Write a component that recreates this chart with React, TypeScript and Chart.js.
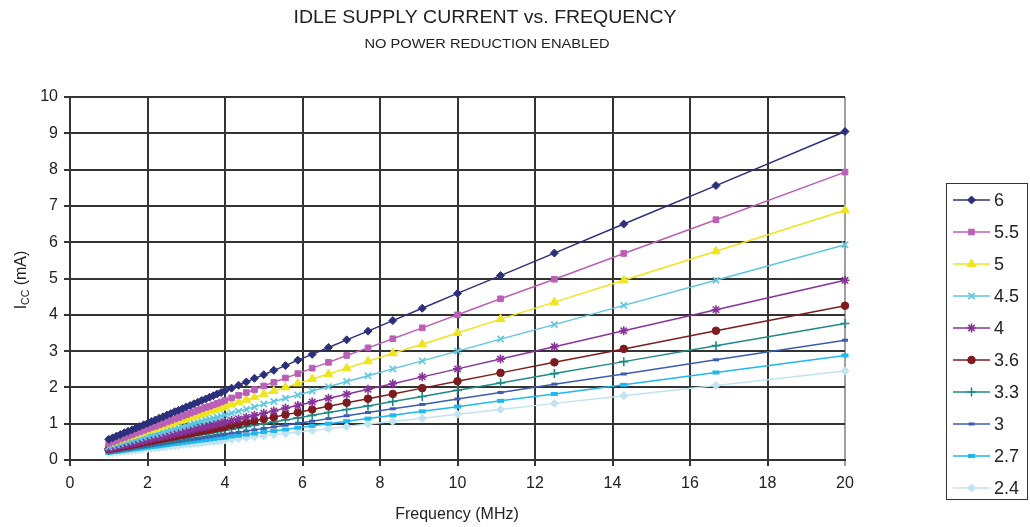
import React, { useEffect, useRef } from 'react';
import { Chart, registerables, PointElement } from 'chart.js';

Chart.register(...registerables);

const TITLE = 'IDLE SUPPLY CURRENT vs. FREQUENCY';
const SUBTITLE = 'NO POWER REDUCTION ENABLED';
const X_TITLE = 'Frequency (MHz)';

const X_TICKS = [0, 2, 4, 6, 8, 10, 12, 14, 16, 18, 20];
const Y_TICKS = [0, 1, 2, 3, 4, 5, 6, 7, 8, 9, 10];

const FREQ = [20, 16.67, 14.29, 12.5, 11.11, 10, 9.09, 8.33, 7.69, 7.14, 6.67, 6.25, 5.88, 5.56, 5.26, 5, 4.76, 4.55, 4.35, 4.17,
  4.0, 3.9, 3.8, 3.7, 3.6, 3.5, 3.4, 3.3, 3.2, 3.1, 3.0, 2.9, 2.8, 2.7, 2.6, 2.5, 2.4, 2.3, 2.2, 2.1, 2.0, 1.9, 1.8, 1.7, 1.6, 1.5, 1.4, 1.3, 1.2, 1.1, 1.0];

const SERIES_LABELS = ['6', '5.5', '5', '4.5', '4', '3.6', '3.3', '3', '2.7', '2.4'];

const I_6V = [9.05, 7.56, 6.50, 5.70, 5.08, 4.59, 4.18, 3.84, 3.55, 3.31, 3.10, 2.91, 2.75, 2.60, 2.47, 2.35, 2.25, 2.15, 2.06, 1.98,
  1.91, 1.86, 1.82, 1.77, 1.73, 1.68, 1.64, 1.59, 1.55, 1.50, 1.46, 1.41, 1.37, 1.33, 1.28, 1.24, 1.19, 1.15, 1.10, 1.06, 1.01, 0.97, 0.92, 0.88, 0.83, 0.79, 0.75, 0.70, 0.66, 0.61, 0.57];
const I_5V5 = [7.93, 6.62, 5.69, 4.98, 4.44, 4.00, 3.64, 3.34, 3.09, 2.88, 2.69, 2.53, 2.38, 2.26, 2.14, 2.04, 1.94, 1.86, 1.78, 1.71,
  1.64, 1.60, 1.56, 1.52, 1.48, 1.45, 1.41, 1.37, 1.33, 1.29, 1.25, 1.21, 1.17, 1.13, 1.09, 1.05, 1.01, 0.97, 0.93, 0.90, 0.86, 0.82, 0.78, 0.74, 0.70, 0.66, 0.62, 0.58, 0.54, 0.50, 0.46];
const I_5V = [6.88, 5.75, 4.95, 4.35, 3.88, 3.50, 3.19, 2.94, 2.72, 2.53, 2.37, 2.23, 2.11, 2.00, 1.90, 1.81, 1.73, 1.66, 1.59, 1.53,
  1.47, 1.44, 1.40, 1.37, 1.34, 1.30, 1.27, 1.24, 1.20, 1.17, 1.13, 1.10, 1.07, 1.03, 1.00, 0.97, 0.93, 0.90, 0.86, 0.83, 0.80, 0.76, 0.73, 0.69, 0.66, 0.63, 0.59, 0.56, 0.53, 0.49, 0.46];
const I_4V5 = [5.93, 4.95, 4.26, 3.73, 3.33, 3.00, 2.73, 2.51, 2.32, 2.16, 2.02, 1.90, 1.79, 1.70, 1.61, 1.54, 1.46, 1.40, 1.34, 1.29,
  1.24, 1.21, 1.18, 1.15, 1.12, 1.10, 1.07, 1.04, 1.01, 0.98, 0.95, 0.92, 0.89, 0.86, 0.83, 0.80, 0.77, 0.74, 0.71, 0.69, 0.66, 0.63, 0.60, 0.57, 0.54, 0.51, 0.48, 0.45, 0.42, 0.39, 0.36];
const I_4V = [4.95, 4.14, 3.56, 3.12, 2.78, 2.51, 2.29, 2.10, 1.95, 1.81, 1.70, 1.60, 1.50, 1.43, 1.35, 1.29, 1.23, 1.18, 1.13, 1.09,
  1.05, 1.02, 1.00, 0.97, 0.95, 0.92, 0.90, 0.88, 0.85, 0.83, 0.80, 0.78, 0.75, 0.73, 0.70, 0.68, 0.66, 0.63, 0.61, 0.58, 0.56, 0.53, 0.51, 0.48, 0.46, 0.44, 0.41, 0.39, 0.36, 0.34, 0.31];
const I_3V6 = [4.25, 3.56, 3.06, 2.69, 2.40, 2.17, 1.98, 1.82, 1.69, 1.58, 1.48, 1.39, 1.31, 1.25, 1.18, 1.13, 1.08, 1.04, 0.99, 0.96,
  0.92, 0.90, 0.88, 0.86, 0.84, 0.82, 0.80, 0.78, 0.76, 0.73, 0.71, 0.69, 0.67, 0.65, 0.63, 0.61, 0.59, 0.57, 0.55, 0.53, 0.51, 0.49, 0.46, 0.44, 0.42, 0.40, 0.38, 0.36, 0.34, 0.32, 0.30];
const I_3V3 = [3.76, 3.15, 2.71, 2.38, 2.12, 1.92, 1.75, 1.61, 1.49, 1.39, 1.31, 1.23, 1.16, 1.10, 1.05, 1.00, 0.96, 0.92, 0.88, 0.85,
  0.82, 0.80, 0.78, 0.76, 0.74, 0.72, 0.71, 0.69, 0.67, 0.65, 0.63, 0.61, 0.60, 0.58, 0.56, 0.54, 0.52, 0.50, 0.48, 0.47, 0.45, 0.43, 0.41, 0.39, 0.37, 0.36, 0.34, 0.32, 0.30, 0.28, 0.26];
const I_3V = [3.30, 2.76, 2.37, 2.09, 1.86, 1.68, 1.53, 1.41, 1.31, 1.22, 1.14, 1.07, 1.01, 0.96, 0.91, 0.87, 0.83, 0.80, 0.76, 0.74,
  0.71, 0.69, 0.68, 0.66, 0.64, 0.63, 0.61, 0.59, 0.58, 0.56, 0.55, 0.53, 0.51, 0.50, 0.48, 0.47, 0.45, 0.43, 0.42, 0.40, 0.38, 0.37, 0.35, 0.34, 0.32, 0.30, 0.29, 0.27, 0.25, 0.24, 0.22];
const I_2V7 = [2.88, 2.41, 2.07, 1.82, 1.63, 1.47, 1.34, 1.23, 1.14, 1.07, 1.00, 0.94, 0.89, 0.84, 0.80, 0.77, 0.73, 0.70, 0.67, 0.65,
  0.62, 0.61, 0.60, 0.58, 0.57, 0.55, 0.54, 0.53, 0.51, 0.50, 0.48, 0.47, 0.45, 0.44, 0.43, 0.41, 0.40, 0.38, 0.37, 0.36, 0.34, 0.33, 0.31, 0.30, 0.29, 0.27, 0.26, 0.24, 0.23, 0.22, 0.20];
const I_2V4 = [2.45, 2.05, 1.77, 1.56, 1.39, 1.26, 1.15, 1.06, 0.99, 0.92, 0.86, 0.81, 0.77, 0.73, 0.70, 0.67, 0.64, 0.61, 0.59, 0.57,
  0.55, 0.53, 0.52, 0.51, 0.50, 0.49, 0.47, 0.46, 0.45, 0.44, 0.43, 0.42, 0.40, 0.39, 0.38, 0.37, 0.36, 0.34, 0.33, 0.32, 0.31, 0.30, 0.28, 0.27, 0.26, 0.25, 0.24, 0.22, 0.21, 0.20, 0.19];

const SERIES_VALUES = [I_6V, I_5V5, I_5V, I_4V5, I_4V, I_3V6, I_3V3, I_3V, I_2V7, I_2V4];

const COLORS = ['#2c2f7a', '#bb60b6', '#efe41e', '#5ec6df', '#88339a', '#7d1b1e', '#1f8a86', '#3b5cb0', '#1fb8ef', '#c2e3f0'];
const MARKERS = [
  { style: 'rectRot', radius: 4, bw: 1 },
  { style: 'rect', radius: 4, bw: 1 },
  { style: 'triangle', radius: 5, bw: 1 },
  { style: 'crossRot', radius: 4.5, bw: 1.6 },
  { style: 'star', radius: 4.5, bw: 1.6 },
  { style: 'circle', radius: 3.8, bw: 1 },
  { style: 'cross', radius: 4.5, bw: 1.6 },
  { style: 'line', radius: 3, bw: 3 },
  { style: 'line', radius: 3.5, bw: 4 },
  { style: 'rectRot', radius: 4, bw: 1 },
];

const FONT = '"Liberation Sans", Arial, Helvetica, sans-serif';

const overlayPlugin = {
  id: 'overlay',
  afterDraw(chart: any) {
    const ctx = chart.ctx as CanvasRenderingContext2D;
    ctx.save();
    ctx.fillStyle = '#222';
    ctx.textBaseline = 'middle';
    ctx.textAlign = 'center';

    const fitText = (text: string, font: string, cx: number, cy: number, width: number) => {
      ctx.font = font;
      const w = ctx.measureText(text).width;
      ctx.save();
      ctx.translate(cx, cy);
      ctx.scale(width / w, 1);
      ctx.fillText(text, 0, 0);
      ctx.restore();
    };
    fitText(TITLE, '18px ' + FONT, 485, 18, 383);
    fitText(SUBTITLE, '13.5px ' + FONT, 487, 44, 245);

    // x axis title
    ctx.font = '16px ' + FONT;
    ctx.fillText(X_TITLE, 457, 515);

    // y axis title with subscript
    ctx.save();
    ctx.translate(22, 280);
    ctx.rotate(-Math.PI / 2);
    const big = '16px ' + FONT;
    const small = '10.5px ' + FONT;
    ctx.font = big;
    const wI = ctx.measureText('I').width;
    const wRest = ctx.measureText(' (mA)').width;
    ctx.font = small;
    const wCC = ctx.measureText('CC').width;
    const total = wI + wCC + wRest;
    let x = -total / 2;
    ctx.textAlign = 'left';
    ctx.font = big;
    ctx.fillText('I', x, 0);
    x += wI;
    ctx.font = small;
    ctx.fillText('CC', x, 4);
    x += wCC;
    ctx.font = big;
    ctx.fillText(' (mA)', x, 0);
    ctx.restore();

    // legend
    ctx.strokeStyle = '#333';
    ctx.lineWidth = 1;
    ctx.strokeRect(946.5, 183.5, 81, 316);
    chart.data.datasets.forEach((ds: any, i: number) => {
      const y = 200 + i * 32;
      ctx.strokeStyle = ds.borderColor;
      ctx.lineWidth = 1.5;
      ctx.beginPath();
      ctx.moveTo(953, y);
      ctx.lineTo(990, y);
      ctx.stroke();
      const meta = chart.getDatasetMeta(i);
      const opts = meta.data[0] && meta.data[0].options;
      if (opts) {
        const el: any = new (PointElement as any)({ x: 971.5, y, options: opts });
        el.x = 971.5;
        el.y = y;
        el.options = opts;
        el.draw(ctx);
      }
      ctx.fillStyle = '#222';
      ctx.font = '18px ' + FONT;
      ctx.textAlign = 'left';
      ctx.textBaseline = 'middle';
      ctx.fillText(SERIES_LABELS[i], 994, y + 1);
    });
    ctx.restore();
  },
};

export default function App() {
  const ref = useRef<HTMLCanvasElement | null>(null);
  useEffect(() => {
    document.body.style.margin = '0';
    const canvas = ref.current;
    if (!canvas) return;
    const datasets = SERIES_LABELS.map((label, i) => ({
      label,
      data: FREQ.map((f, j) => ({ x: f, y: SERIES_VALUES[i][j] })),
      borderColor: COLORS[i],
      backgroundColor: COLORS[i],
      borderWidth: 1.5,
      pointStyle: MARKERS[i].style,
      pointRadius: MARKERS[i].radius,
      pointBorderWidth: MARKERS[i].bw,
      pointBackgroundColor: COLORS[i],
      pointBorderColor: COLORS[i],
      tension: 0,
      clip: 10,
    }));
    const gridColor = (c: any) => (c.tick && c.tick.value === 20 && c.scale.axis === 'x' ? '#a0a0a0' : '#333');
    const chart = new Chart(canvas, {
      type: 'line',
      data: { datasets },
      plugins: [overlayPlugin],
      options: {
        animation: false,
        responsive: false,
        devicePixelRatio: 1,
        layout: { padding: { top: 97, right: 185, left: 0, bottom: 0 } },
        plugins: { legend: { display: false }, title: { display: false }, tooltip: { enabled: false } },
        scales: {
          x: {
            type: 'linear',
            min: 0,
            max: 20,
            afterBuildTicks: (s: any) => { s.ticks = X_TICKS.map((v) => ({ value: v })); },
            afterFit: (s: any) => { s.height = 67; },
            ticks: { color: '#222', font: { size: 16, family: FONT }, padding: 8, maxRotation: 0 },
            grid: { color: gridColor, lineWidth: 2, tickLength: 6 },
            border: { color: '#333', width: 2 },
          },
          y: {
            type: 'linear',
            min: 0,
            max: 10,
            afterBuildTicks: (s: any) => { s.ticks = Y_TICKS.map((v) => ({ value: v })); },
            afterFit: (s: any) => { s.width = 70; },
            ticks: { color: '#222', font: { size: 16, family: FONT }, padding: 6 },
            grid: { color: '#333', lineWidth: 2, tickLength: 6 },
            border: { color: '#333', width: 2 },
          },
        },
      } as any,
    });
    return () => chart.destroy();
  }, []);
  return (
    <div style={{ width: 1030, height: 527, background: '#fff' }}>
      <canvas ref={ref} width={1030} height={527} style={{ display: 'block', width: 1030, height: 527 }} />
    </div>
  );
}
